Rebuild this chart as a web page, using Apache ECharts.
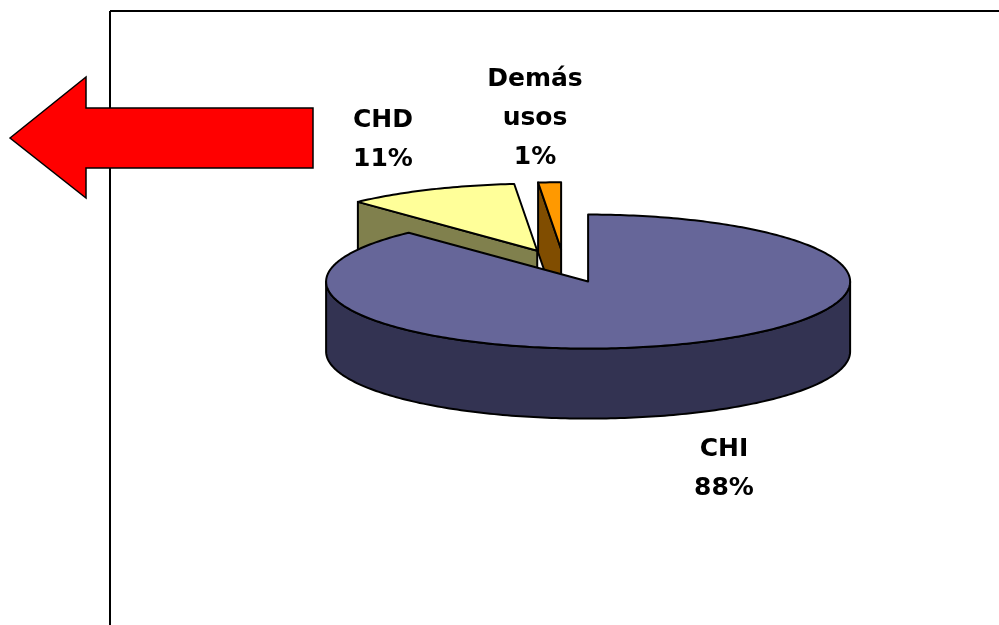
<!DOCTYPE html>
<html>
<head>
<meta charset="utf-8">
<script src="https://cdn.jsdelivr.net/npm/echarts@6/dist/echarts.min.js"></script>
<style>
html,body{margin:0;padding:0;background:#fff}
#chart{width:999px;height:625px}
</style>
</head>
<body>
<div id="chart"></div>
<script>
// datos (porcentajes; la etiqueta los redondea)
var categories = ['CHI', 'CHD', 'Demás usos'];
var shares = [88, 10.6, 1.4];

// estilo
var topColors = ['#666699', '#FFFF99', '#FF9900'];
var sideColors = ['#333352', '#80804D', '#804D00'];
var labelAt = [[724, 469], [383, 140], [535, 118]];

// geometria del pastel 3D
var cx = 564, cy = 266, rx = 262, ry = 67, depth = 70, explode = 0.25;

var total = shares.reduce(function (a, b) { return a + b; }, 0);
var slices = [];
var acc = 0;
shares.forEach(function (v, i) {
  var a0 = acc / total * 2 * Math.PI;
  acc += v;
  var a1 = acc / total * 2 * Math.PI;
  var mid = (a0 + a1) / 2;
  slices.push({
    a0: a0, a1: a1,
    ox: cx + explode * rx * Math.sin(mid),
    oy: cy - explode * ry * Math.cos(mid)
  });
});
// orden de pintado: de atras hacia adelante
var order = slices.map(function (s, i) { return i; }).sort(function (a, b) { return slices[a].oy - slices[b].oy; });

function rim(s, a, dy) {
  return [s.ox + rx * Math.sin(a), s.oy - ry * Math.cos(a) + (dy || 0)];
}
function arc(s, a0, a1, dy) {
  var pts = [];
  var n = Math.max(2, Math.ceil((a1 - a0) / (Math.PI / 180)));
  for (var k = 0; k <= n; k++) pts.push(rim(s, a0 + (a1 - a0) * k / n, dy));
  return pts;
}

function renderItem(params, api) {
  var i = params.dataIndex;
  var s = slices[i];
  var rank = order.indexOf(i) * 10;
  var stroke = { stroke: '#000', lineWidth: 2, lineJoin: 'round' };
  var children = [];
  var c = [s.ox, s.oy], cd = [s.ox, s.oy + depth];

  // caras radiales visibles
  if (Math.sin(s.a0) < -1e-6) {
    children.push({ type: 'polygon', z2: rank + 1,
      shape: { points: [c, rim(s, s.a0), rim(s, s.a0, depth), cd] },
      style: Object.assign({ fill: sideColors[i] }, stroke) });
  }
  if (Math.sin(s.a1) > 1e-6) {
    children.push({ type: 'polygon', z2: rank + 1,
      shape: { points: [c, rim(s, s.a1), rim(s, s.a1, depth), cd] },
      style: Object.assign({ fill: sideColors[i] }, stroke) });
  }
  // pared exterior (mitad frontal)
  [[Math.PI / 2, 3 * Math.PI / 2], [2.5 * Math.PI, 3.5 * Math.PI]].forEach(function (r) {
    var b0 = Math.max(s.a0, r[0]), b1 = Math.min(s.a1, r[1]);
    if (b1 > b0) {
      var pts = arc(s, b0, b1, 0).concat(arc(s, b0, b1, depth).reverse());
      children.push({ type: 'polygon', z2: rank + 2,
        shape: { points: pts },
        style: Object.assign({ fill: sideColors[i] }, stroke) });
    }
  });
  // cara superior
  children.push({ type: 'polygon', z2: rank + 3,
    shape: { points: [c].concat(arc(s, s.a0, s.a1, 0)) },
    style: Object.assign({ fill: topColors[i] }, stroke) });

  // etiqueta
  children.push({ type: 'text', z2: 100,
    x: labelAt[i][0], y: labelAt[i][1],
    style: {
      text: categories[i].replace(' ', '\n') + '\n' + Math.round(api.value(0) / total * 100) + '%',
      fill: '#000', fontFamily: 'DejaVu Sans', fontWeight: 'bold', fontSize: 25,
      lineHeight: 39, align: 'center', verticalAlign: 'middle'
    } });

  return { type: 'group', children: children };
}

var chart = echarts.init(document.getElementById('chart'));
chart.setOption({
  animation: false,
  backgroundColor: '#fff',
  graphic: [
    { type: 'line', shape: { x1: 110, y1: 11, x2: 999, y2: 11 }, style: { stroke: '#000', lineWidth: 2 } },
    { type: 'line', shape: { x1: 110, y1: 11, x2: 110, y2: 625 }, style: { stroke: '#000', lineWidth: 2 } },
    { type: 'polygon', z: 10,
      shape: { points: [[10, 138], [86, 77], [86, 108], [313, 108], [313, 168], [86, 168], [86, 198]] },
      style: { fill: '#FF0000', stroke: '#000', lineWidth: 1.5 } }
  ],
  series: [{
    type: 'custom',
    coordinateSystem: 'none',
    renderItem: renderItem,
    data: shares.map(function (v, i) { return { name: categories[i], value: [v] }; })
  }]
});
</script>
</body>
</html>
